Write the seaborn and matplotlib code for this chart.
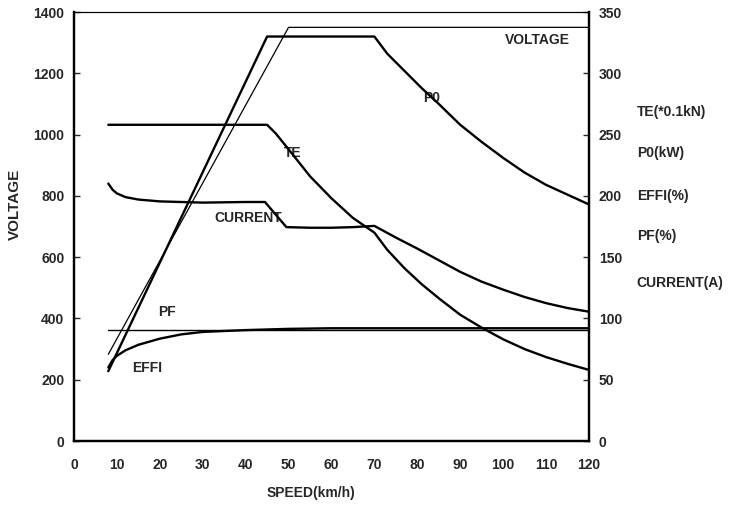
import pandas as pd
import matplotlib
matplotlib.use("Agg")
import matplotlib.pyplot as plt
import seaborn as sns

# speed axis points (km/h) and series
volt_speed = [8, 50, 120]
voltage = [283, 1350, 1350]

p0_speed = [8, 45, 70, 73, 77, 81, 85, 90, 95, 100, 105, 110, 115, 120]
p0 = [57, 330, 330, 316, 302, 288, 275, 258, 244, 231, 219, 209, 201, 193]

te_speed = [8, 45, 47, 50, 55, 60, 65, 70, 73, 77, 81, 85, 90, 95, 100, 105, 110, 115, 120]
te = [258, 258, 251, 238, 216, 198, 182, 170, 156, 141, 128, 116.5, 103, 92.5, 83, 75, 68.5, 63, 58]

cur_speed = [8, 9, 10, 12, 15, 20, 30, 40, 44.5, 49.5, 55, 60, 65, 70,
             75, 80, 85, 90, 95, 100, 105, 110, 115, 120]
current = [210, 205, 202, 199, 197, 195.5, 194.5, 195, 195, 174.5, 174, 174, 174.5, 175.5,
           166, 157, 147.5, 138, 130, 123.5, 117.5, 112.5, 108.5, 105.5]

effi_speed = [8, 9, 10, 12, 15, 20, 25, 30, 40, 50, 60, 80, 100, 120]
effi = [60, 66, 69.5, 74, 78.5, 83.5, 87, 89, 90.5, 91.5, 92, 92, 92, 92]

pf_speed = [8, 120]
pf = [90.5, 90.5]

right_labels = ["TE(*0.1kN)", "P0(kW)", "EFFI(%)", "PF(%)", "CURRENT(A)"]

sns.set_style("white")
plt.rcParams["font.family"] = ["Liberation Sans", "DejaVu Sans"]
plt.rcParams["font.weight"] = "bold"

fig = plt.figure(figsize=(7.31, 5.05), dpi=100)
ax = fig.add_axes([0.1012, 0.1267, 0.7045, 0.8495])
ax2 = ax.twinx()

sns.lineplot(x=volt_speed, y=voltage, ax=ax, color="black", lw=0.9)
sns.lineplot(x=p0_speed, y=p0, ax=ax2, color="black", lw=1.7)
sns.lineplot(x=te_speed, y=te, ax=ax2, color="black", lw=1.7)
sns.lineplot(x=cur_speed, y=current, ax=ax2, color="black", lw=1.7)
sns.lineplot(x=effi_speed, y=effi, ax=ax2, color="black", lw=1.7)
sns.lineplot(x=pf_speed, y=pf, ax=ax2, color="black", lw=1.0)

ax.set_xlim(0, 120)
ax.set_ylim(0, 1400)
ax2.set_ylim(0, 350)
ax.set_xticks(range(0, 121, 10))
ax.set_yticks(range(0, 1401, 200))
ax2.set_yticks(range(0, 351, 50))

for a in (ax, ax2):
    for side in ("left", "right", "bottom"):
        a.spines[side].set_linewidth(1.6)
        a.spines[side].set_color("black")
    a.spines["top"].set_linewidth(0.8)
    a.spines["top"].set_color("black")

ax.tick_params(axis="x", direction="in", length=4, width=1, pad=12, labelsize=10)
ax.tick_params(axis="y", direction="in", length=4, width=1, pad=7, labelsize=10)
ax2.tick_params(axis="y", direction="in", length=4, width=1, pad=7, labelsize=10)

ax.set_xlabel("SPEED(km/h)", fontsize=10, fontweight="bold")
ax.xaxis.set_label_coords(0.46, -0.105)
ax.set_ylabel("VOLTAGE", fontsize=11, fontweight="bold")
ax.yaxis.set_label_coords(-0.102, 0.552)

# curve names inside the plot (speed, left-axis value)
ax.text(108, 1310, "VOLTAGE", ha="center", va="center", fontsize=10, fontweight="bold")
ax.text(83.4, 1119, "P0", ha="center", va="center", fontsize=10, fontweight="bold")
ax.text(51, 940, "TE", ha="center", va="center", fontsize=10, fontweight="bold")
ax.text(40.6, 728, "CURRENT", ha="center", va="center", fontsize=10, fontweight="bold")
ax.text(21.7, 421, "PF", ha="center", va="center", fontsize=10, fontweight="bold")
ax.text(17, 238, "EFFI", ha="center", va="center", fontsize=10, fontweight="bold")

# right-axis legend names
for lab, yy in zip(right_labels, [0.778, 0.697, 0.612, 0.533, 0.440]):
    fig.text(0.871, yy, lab, ha="left", va="center", fontsize=10, fontweight="bold")

fig.savefig("out.png", dpi=100)
